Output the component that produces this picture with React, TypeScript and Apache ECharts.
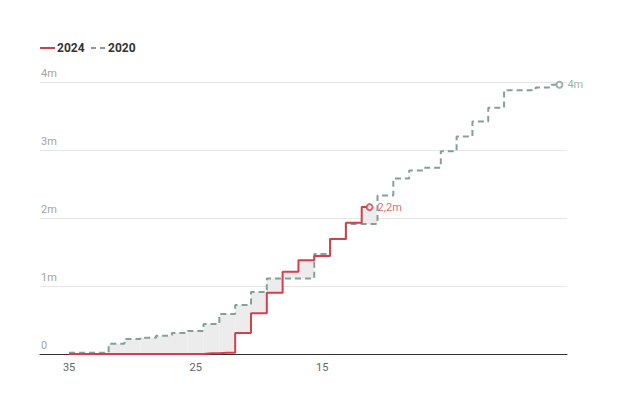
import React, { useEffect, useRef } from "react";
import * as echarts from "echarts";

// x position of each weekly reading (value axis, shown reversed)
const xValues = [
  35, 33.75, 32.5, 31.25, 30, 28.75, 27.5, 26.25, 25, 23.75, 22.5, 21.25, 20,
  18.75, 17.5, 16.25, 15, 13.75, 12.5, 11.25, 10, 8.75, 7.5, 6.25, 5, 3.75,
  2.5, 1.25, 0, -1.25, -2.5, -3.75,
];

// cumulative values, in millions
const series2024 = [
  0, 0, 0, 0, 0, 0, 0, 0, 0, 0.01, 0.02, 0.31, 0.6, 0.9, 1.21, 1.38, 1.44,
  1.69, 1.93, 2.16,
];
const series2020 = [
  0.02, 0.02, 0.02, 0.15, 0.22, 0.24, 0.27, 0.31, 0.34, 0.44, 0.59, 0.72,
  0.91, 1.11, 1.11, 1.11, 1.47, 1.69, 1.91, 1.91, 2.33, 2.58, 2.7, 2.74, 2.98,
  3.2, 3.42, 3.62, 3.88, 3.88, 3.92, 3.96,
];

const xTickLabels = [35, 25, 15];
const yTicks = [0, 1, 2, 3, 4];
const legendNames = ["2024", "2020"];

const RED = "#d63f4a";
const GREEN = "#83a09a";
const FILL = "#ececec";

const fmtEnd = (v: number) => {
  const r = Math.round(v * 10) / 10;
  return String(r).replace(".", ",") + "m";
};

export default function App() {
  const ref = useRef<HTMLDivElement>(null);

  useEffect(() => {
    if (!ref.current) return;
    const chart = echarts.init(ref.current, null, { renderer: "svg" });

    const n = series2024.length;
    // band between the two step lines: [xLeft, xRight, low, high]
    const band = series2024.map((v, i) => {
      const g = series2020[i];
      const x = xValues[i];
      const xl = i > 0 ? (xValues[i - 1] + x) / 2 : x;
      const xr = i < xValues.length - 1 ? (xValues[i + 1] + x) / 2 : x;
      return [xl, xr, Math.min(v, g), Math.max(v, g)];
    });

    const pairs = (arr: number[]) => arr.map((v, i) => [xValues[i], v]);

    const font = "Roboto, 'Noto Sans', sans-serif";

    chart.setOption({
      animation: false,
      textStyle: { fontFamily: font },
      grid: { left: 40, right: 57, top: 82, bottom: 62, containLabel: false },
      xAxis: {
        type: "value",
        inverse: true,
        min: -4.35,
        max: 37.3,
        axisLine: { show: true, lineStyle: { color: "#333", width: 1 } },
        axisTick: { show: false },
        splitLine: { show: false },
        axisLabel: {
          customValues: xTickLabels,
          color: "#666",
          fontSize: 11,
          margin: 8,
          fontFamily: font,
        },
      },
      yAxis: {
        type: "value",
        min: yTicks[0],
        max: yTicks[yTicks.length - 1],
        interval: 1,
        axisLine: { show: false },
        axisTick: { show: false },
        splitLine: { lineStyle: { color: "#e6e6e6", width: 1 } },
        axisLabel: {
          inside: true,
          margin: 1,
          verticalAlign: "bottom",
          padding: [0, 0, 3, 0],
          color: "#a3a3a3",
          fontSize: 11,
          fontFamily: font,
          formatter: (v: number) => (v === 0 ? "0" : v + "m"),
        },
      },
      graphic: [
        {
          type: "line",
          shape: { x1: 40, y1: 48, x2: 55, y2: 48 },
          style: { stroke: RED, lineWidth: 2 },
        },
        {
          type: "text",
          x: 57,
          y: 48,
          style: {
            text: legendNames[0],
            fill: "#333",
            fontSize: 12,
            fontWeight: "bold",
            fontFamily: font,
            verticalAlign: "middle",
          },
        },
        {
          type: "line",
          shape: { x1: 91, y1: 48, x2: 106, y2: 48 },
          style: { stroke: GREEN, lineWidth: 2, lineDash: [5, 4] },
        },
        {
          type: "text",
          x: 108,
          y: 48,
          style: {
            text: legendNames[1],
            fill: "#333",
            fontSize: 12,
            fontWeight: "bold",
            fontFamily: font,
            verticalAlign: "middle",
          },
        },
      ],
      series: [
        {
          name: "gap",
          type: "custom",
          silent: true,
          z: 1,
          encode: { x: [0, 1], y: [2, 3] },
          data: band,
          renderItem: (_params: any, api: any) => {
            const p1 = api.coord([api.value(0), api.value(3)]);
            const p2 = api.coord([api.value(1), api.value(2)]);
            const x = Math.min(p1[0], p2[0]);
            const y = Math.min(p1[1], p2[1]);
            return {
              type: "rect",
              shape: {
                x,
                y,
                width: Math.abs(p2[0] - p1[0]),
                height: Math.abs(p2[1] - p1[1]),
              },
              style: { fill: FILL },
            };
          },
        },
        {
          name: legendNames[1],
          type: "line",
          step: "middle",
          symbol: "none",
          lineStyle: { color: GREEN, width: 2, type: [6, 4] },
          data: pairs(series2020),
          z: 2,
        },
        {
          name: legendNames[0],
          type: "line",
          step: "middle",
          symbol: "none",
          lineStyle: { color: RED, width: 2 },
          data: pairs(series2024),
          z: 3,
        },
        {
          name: "end2020",
          type: "scatter",
          symbol: "emptyCircle",
          symbolSize: 6,
          itemStyle: { color: GREEN, borderWidth: 1.5 },
          label: {
            show: true,
            position: "right",
            distance: 4,
            color: GREEN,
            fontSize: 11,
            fontFamily: font,
            formatter: (p: any) => fmtEnd(p.value[1]),
          },
          data: [[xValues[series2020.length - 1], series2020[series2020.length - 1]]],
          z: 4,
        },
        {
          name: "end2024",
          type: "scatter",
          symbol: "emptyCircle",
          symbolSize: 6,
          itemStyle: { color: RED, borderWidth: 1.5 },
          label: {
            show: true,
            position: "right",
            distance: 4,
            color: RED,
            fontSize: 11,
            fontFamily: font,
            formatter: (p: any) => fmtEnd(p.value[1]),
          },
          data: [[xValues[n - 1], series2024[n - 1]]],
          z: 4,
        },
      ],
    });

    return () => chart.dispose();
  }, []);

  return (
    <div
      ref={ref}
      style={{ position: "fixed", left: 0, top: 0, width: 624, height: 416, background: "#fff" }}
    />
  );
}
